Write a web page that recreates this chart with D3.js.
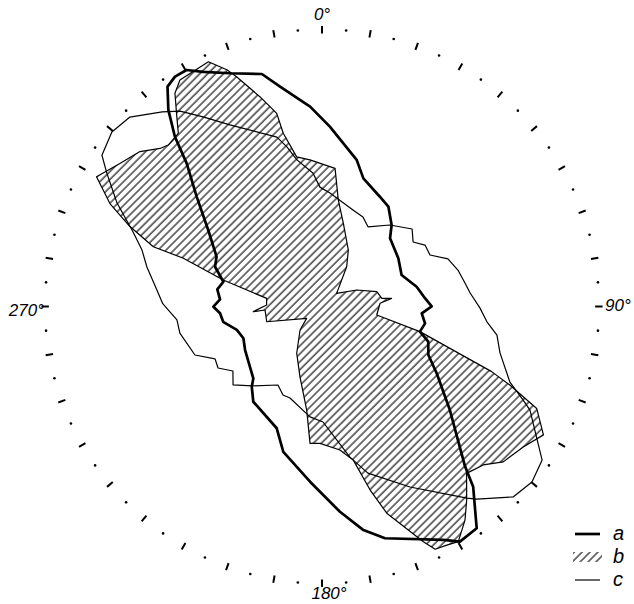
<!DOCTYPE html>
<html>
<head>
<meta charset="utf-8">
<script src="https://cdn.jsdelivr.net/npm/d3@7"></script>
<style>
  html, body { margin: 0; padding: 0; background: #fff; }
  svg { display: block; }
  text { font-family: 'Liberation Sans', Arial, sans-serif; font-style: italic; fill: #000; }
</style>
</head>
<body>
<div id="chart"></div>
<script>
// angles in degrees, clockwise from 0° at top; radii as % of the outer tick circle
const aAngles = [324.9, 327.4, 330.2, 333.1, 338.5, 345.5, 349.2, 353.9, 356.6, 2.5, 13.3, 17.9, 27.8, 33.6, 40.5, 44.9, 57.7, 68.4, 78.2, 85.4,
  89.9, 93.9, 99.3, 104.4, 108.3, 114.5, 120.2, 129.0, 138.2, 140.0, 145.1, 149.6, 152.5, 164.8, 169.5, 175.0, 183.9, 194.9, 200.4, 215.8,
  221.2, 223.7, 240.5, 248.0, 254.6, 261.2, 266.2, 269.9, 274.0, 279.3, 284.1, 290.4, 295.3, 303.9, 311.2, 316.6, 319.1, 322.0];
const aRadii = [97.0, 98.5, 98.4, 95.0, 90.5, 86.7, 80.8, 75.0, 72.3, 65.0, 54.4, 48.6, 44.8, 43.3, 38.7, 34.8, 32.6, 30.9, 34.9, 37.3,
  39.6, 36.1, 37.7, 36.5, 40.4, 42.2, 47.9, 59.4, 77.5, 84.9, 97.6, 98.4, 95.0, 86.7, 82.1, 74.4, 63.4, 54.3, 46.9, 42.4,
  38.5, 35.9, 31.9, 30.6, 31.9, 36.1, 36.9, 39.2, 36.9, 38.3, 36.7, 41.2, 42.1, 49.5, 60.1, 71.1, 81.1, 90.1];

const bAngles = [335.1, 338.1, 339.6, 343.5, 346.8, 347.4, 350.4, 355.3, 5.4, 8.7, 14.4, 25.0, 31.8, 48.1, 64.6, 74.9, 82.2, 83.3, 86.8, 98.8,
  104.4, 111.0, 112.7, 115.4, 120.1, 124.9, 130.6, 134.5, 139.1, 143.2, 146.2, 149.9, 152.4, 155.0, 156.7, 162.6, 165.3, 168.5, 172.9, 180.8,
  185.0, 188.4, 197.4, 208.4, 223.1, 232.4, 254.6, 266.5, 265.7, 271.6, 278.4, 285.0, 289.2, 289.5, 292.6, 295.9, 299.9, 305.3, 310.4, 314.3,
  316.4, 320.3, 322.6, 325.4, 327.9];
const bRadii = [97.4, 92.1, 88.5, 79.0, 71.6, 64.1, 54.8, 53.1, 50.1, 38.9, 31.0, 22.5, 16.9, 7.1, 13.9, 20.5, 21.8, 25.3, 21.0, 20.0,
  36.5, 65.6, 73.5, 85.8, 92.4, 88.6, 86.2, 81.6, 79.7, 87.2, 92.8, 98.1, 97.2, 96.7, 92.5, 78.2, 68.5, 56.6, 52.2, 49.4,
  49.6, 37.8, 26.6, 19.2, 11.6, 7.0, 20.7, 20.6, 24.9, 20.0, 20.2, 36.9, 53.0, 64.6, 75.1, 85.1, 93.9, 89.4, 86.3, 81.7,
  80.5, 81.2, 86.3, 93.5, 96.5];

const cAngles = [304.5, 309.7, 314.6, 320.6, 324.0, 327.9, 333.1, 345.1, 347.6, 350.3, 356.1, 359.0, 4.0, 17.8, 24.6, 30.1, 39.8, 49.3, 54.7, 59.2,
  64.5, 69.3, 75.0, 80.7, 84.8, 90.5, 95.3, 99.3, 104.6, 111.9, 114.9, 116.5, 121.8, 124.9, 129.9, 134.9, 141.2, 142.9, 154.0, 164.6,
  169.5, 179.5, 186.2, 199.3, 203.8, 209.3, 221.4, 228.6, 234.1, 239.4, 243.9, 249.1, 259.4, 264.7, 271.0, 275.7, 282.7, 287.4, 291.5, 296.8,
  301.8];
const cRadii = [96.4, 98.6, 97.4, 90.9, 87.2, 80.8, 73.5, 63.3, 59.0, 53.7, 48.3, 43.1, 41.1, 36.6, 35.5, 33.2, 38.3, 42.9, 40.3, 43.3,
  43.2, 48.6, 50.8, 52.3, 53.7, 57.0, 59.8, 64.0, 66.4, 73.1, 80.0, 83.9, 91.4, 96.9, 98.8, 97.4, 89.2, 86.7, 72.5, 62.4,
  55.3, 41.7, 40.1, 35.0, 34.9, 32.5, 38.2, 42.8, 39.7, 43.6, 43.0, 49.1, 52.2, 52.6, 57.5, 59.9, 64.8, 68.1, 73.3, 82.9,
  91.4];

const tickAngles = d3.range(0, 360, 5);
const axisLabels = ['0°', '90°', '180°', '270°'];
const legendKeys = ['a', 'b', 'c'];

const width = 634, height = 604;
const cx = 322, cy = 306.5, outerR = 277;

const svg = d3.select('#chart').append('svg')
  .attr('width', width)
  .attr('height', height);

svg.append('rect').attr('width', width).attr('height', height).attr('fill', '#fff');

// hatch pattern for series b
const defs = svg.append('defs');
defs.append('pattern')
  .attr('id', 'hatch')
  .attr('patternUnits', 'userSpaceOnUse')
  .attr('width', 5.6)
  .attr('height', 10)
  .attr('patternTransform', 'rotate(45)')
  .append('line')
  .attr('x1', 1).attr('y1', 0).attr('x2', 1).attr('y2', 10)
  .attr('stroke', '#000')
  .attr('stroke-width', 1.1);

const r = d3.scaleLinear().domain([0, 100]).range([0, outerR]);
const rad = d => d * Math.PI / 180;

const g = svg.append('g').attr('transform', `translate(${cx},${cy})`);

// outer ring of ticks: dashes every 10°, dots in between
const ticks = g.append('g').attr('class', 'ticks');
ticks.selectAll('line')
  .data(tickAngles.filter(d => d % 10 === 0))
  .join('line')
  .attr('x1', d => Math.sin(rad(d)) * r(98.6))
  .attr('y1', d => -Math.cos(rad(d)) * r(98.6))
  .attr('x2', d => Math.sin(rad(d)) * r(101.3))
  .attr('y2', d => -Math.cos(rad(d)) * r(101.3))
  .attr('stroke', '#000')
  .attr('stroke-width', 2);

ticks.selectAll('circle')
  .data(tickAngles.filter(d => d % 10 !== 0))
  .join('circle')
  .attr('cx', d => Math.sin(rad(d)) * r(100))
  .attr('cy', d => -Math.cos(rad(d)) * r(100))
  .attr('r', 1.3)
  .attr('fill', '#000');

const radial = d3.lineRadial()
  .angle(d => rad(d[0]))
  .radius(d => r(d[1]))
  .curve(d3.curveLinearClosed);

g.append('path')
  .datum(d3.zip(bAngles, bRadii))
  .attr('d', radial)
  .attr('fill', 'url(#hatch)')
  .attr('stroke', '#000')
  .attr('stroke-width', 1.2)
  .attr('stroke-linejoin', 'round');

g.append('path')
  .datum(d3.zip(cAngles, cRadii))
  .attr('d', radial)
  .attr('fill', 'none')
  .attr('stroke', '#000')
  .attr('stroke-width', 1.2)
  .attr('stroke-linejoin', 'round');

g.append('path')
  .datum(d3.zip(aAngles, aRadii))
  .attr('d', radial)
  .attr('fill', 'none')
  .attr('stroke', '#000')
  .attr('stroke-width', 2.7)
  .attr('stroke-linejoin', 'round');

// angle labels
const labelPos = [
  { x: 0, y: -287, anchor: 'middle' },
  { x: 283, y: 4, anchor: 'start' },
  { x: 7, y: 292.5, anchor: 'middle' },
  { x: -278, y: 9, anchor: 'end' },
];
g.selectAll('text.axis')
  .data(axisLabels)
  .join('text')
  .attr('class', 'axis')
  .attr('x', (d, i) => labelPos[i].x)
  .attr('y', (d, i) => labelPos[i].y)
  .attr('text-anchor', (d, i) => labelPos[i].anchor)
  .attr('font-size', 17)
  .text(d => d);

// legend
const legend = svg.append('g').attr('transform', 'translate(575,534)');
legendKeys.forEach((k, i) => {
  const y = i * 23;
  if (k === 'a') {
    legend.append('line').attr('x1', 0).attr('x2', 25).attr('y1', y).attr('y2', y)
      .attr('stroke', '#000').attr('stroke-width', 2.7);
  } else if (k === 'b') {
    legend.append('rect').attr('x', -2).attr('y', y - 5).attr('width', 29).attr('height', 10)
      .attr('fill', 'url(#hatch)');
  } else {
    legend.append('line').attr('x1', 0).attr('x2', 25).attr('y1', y).attr('y2', y)
      .attr('stroke', '#000').attr('stroke-width', 1.2);
  }
  legend.append('text')
    .attr('x', 38)
    .attr('y', y + 6)
    .attr('font-size', 20)
    .text(k);
});
</script>
</body>
</html>
